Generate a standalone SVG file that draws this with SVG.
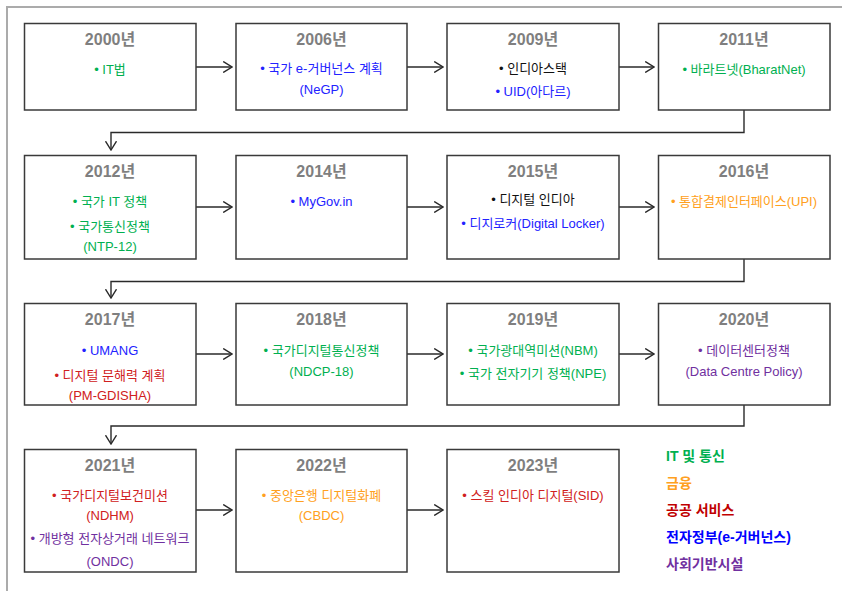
<svg xmlns="http://www.w3.org/2000/svg" width="842" height="591" viewBox="0 0 842 591">
<style>
.frame{fill:none;stroke:#ABABAB;stroke-width:2}
.box{fill:#fff;stroke:#3A3A3A;stroke-width:1.5}
.conn{fill:none;stroke:#2A2A2A;stroke-width:1.4}
text{font-family:"Liberation Sans","Noto Sans CJK KR",sans-serif;font-size:13px;text-anchor:middle}
.yr{font-size:16px;font-weight:bold;fill:#7F7F7F}
.g{fill:#00B050}.b{fill:#2222FF}.r{fill:#D02020}.o{fill:#FFA020}.p{fill:#7030A0}.k{fill:#111}
.lg{font-size:14px;font-weight:bold;text-anchor:start}
</style>
<defs>
<marker id="arr" viewBox="0 0 10 12" refX="9.3" refY="6" markerWidth="10" markerHeight="12" markerUnits="userSpaceOnUse" orient="auto">
<path d="M0.5,0.5 L9.3,6 L0.5,11.5" fill="none" stroke="#2A2A2A" stroke-width="1.4"/>
</marker>
</defs>
<rect width="842" height="591" fill="#fff"/>
<path class="frame" d="M7,591 V7 H842"/>

<g id="connectors">
<path class="conn" d="M196,67 H232" marker-end="url(#arr)"/>
<path class="conn" d="M407,67 H443" marker-end="url(#arr)"/>
<path class="conn" d="M619,67 H654" marker-end="url(#arr)"/>
<path class="conn" d="M744,110 V132.5 H111 V150" marker-end="url(#arr)"/>
<path class="conn" d="M196,207 H232" marker-end="url(#arr)"/>
<path class="conn" d="M407,207 H443" marker-end="url(#arr)"/>
<path class="conn" d="M619,207 H654" marker-end="url(#arr)"/>
<path class="conn" d="M744,259 V281.5 H111 V298" marker-end="url(#arr)"/>
<path class="conn" d="M196,354 H232" marker-end="url(#arr)"/>
<path class="conn" d="M407,354 H443" marker-end="url(#arr)"/>
<path class="conn" d="M619,354 H654" marker-end="url(#arr)"/>
<path class="conn" d="M744,405 V426 H111 V444" marker-end="url(#arr)"/>
<path class="conn" d="M196,510 H232" marker-end="url(#arr)"/>
<path class="conn" d="M407,510 H443" marker-end="url(#arr)"/>
</g>

<g id="n2000"><rect class="box" x="24.5" y="23.5" width="171.5" height="86.5"/>
<text class="yr" x="110" y="45">2000년</text>
<text class="g" x="110" y="74">• IT법</text></g>

<g id="n2006"><rect class="box" x="236" y="23.5" width="171" height="86.5"/>
<text class="yr" x="321.5" y="45">2006년</text>
<text class="b" x="321.5" y="73">• 국가 e-거버넌스 계획</text>
<text class="b" x="321.5" y="94">(NeGP)</text></g>

<g id="n2009"><rect class="box" x="447" y="23.5" width="172" height="86.5"/>
<text class="yr" x="533" y="45">2009년</text>
<text class="k" x="533" y="73">• 인디아스택</text>
<text class="b" x="533" y="96">• UID(아다르)</text></g>

<g id="n2011"><rect class="box" x="658.5" y="23.5" width="171.5" height="86.5"/>
<text class="yr" x="744" y="45">2011년</text>
<text class="g" x="744" y="74">• 바라트넷(BharatNet)</text></g>

<g id="n2012"><rect class="box" x="24.5" y="155.5" width="171.5" height="103.5"/>
<text class="yr" x="110" y="177">2012년</text>
<text class="g" x="110" y="206">• 국가 IT 정책</text>
<text class="g" x="110" y="231">• 국가통신정책</text>
<text class="g" x="110" y="251">(NTP-12)</text></g>

<g id="n2014"><rect class="box" x="236" y="155.5" width="171" height="103.5"/>
<text class="yr" x="321.5" y="177">2014년</text>
<text class="b" x="321.5" y="206">• MyGov.in</text></g>

<g id="n2015"><rect class="box" x="447" y="155.5" width="172" height="103.5"/>
<text class="yr" x="533" y="177">2015년</text>
<text class="k" x="533" y="204">• 디지털 인디아</text>
<text class="b" x="533" y="228">• 디지로커(Digital  Locker)</text></g>

<g id="n2016"><rect class="box" x="658.5" y="155.5" width="171.5" height="103.5"/>
<text class="yr" x="744" y="177">2016년</text>
<text class="o" x="744" y="206">• 통합결제인터페이스(UPI)</text></g>

<g id="n2017"><rect class="box" x="24.5" y="303.5" width="171.5" height="101.5"/>
<text class="yr" x="110" y="325">2017년</text>
<text class="b" x="110" y="355">• UMANG</text>
<text class="r" x="110" y="380">• 디지털 문해력 계획</text>
<text class="r" x="110" y="400">(PM-GDISHA)</text></g>

<g id="n2018"><rect class="box" x="236" y="303.5" width="171" height="101.5"/>
<text class="yr" x="321.5" y="325">2018년</text>
<text class="g" x="321.5" y="355">• 국가디지털통신정책</text>
<text class="g" x="321.5" y="376">(NDCP-18)</text></g>

<g id="n2019"><rect class="box" x="447" y="303.5" width="172" height="101.5"/>
<text class="yr" x="533" y="325">2019년</text>
<text class="g" x="533" y="355">• 국가광대역미션(NBM)</text>
<text class="g" x="533" y="378">• 국가 전자기기 정책(NPE)</text></g>

<g id="n2020"><rect class="box" x="658.5" y="303.5" width="171.5" height="101.5"/>
<text class="yr" x="744" y="325">2020년</text>
<text class="p" x="744" y="355">• 데이터센터정책</text>
<text class="p" x="744" y="376">(Data Centre Policy)</text></g>

<g id="n2021"><rect class="box" x="24.5" y="449.5" width="171.5" height="122.5"/>
<text class="yr" x="110" y="471">2021년</text>
<text class="r" x="110" y="500">• 국가디지털보건미션</text>
<text class="r" x="110" y="520">(NDHM)</text>
<text class="p" x="110" y="543">• 개방형 전자상거래 네트워크</text>
<text class="p" x="110" y="566">(ONDC)</text></g>

<g id="n2022"><rect class="box" x="236" y="449.5" width="171" height="122.5"/>
<text class="yr" x="321.5" y="471">2022년</text>
<text class="o" x="321.5" y="500">• 중앙은행 디지털화폐</text>
<text class="o" x="321.5" y="520">(CBDC)</text></g>

<g id="n2023"><rect class="box" x="447" y="449.5" width="172" height="122.5"/>
<text class="yr" x="533" y="471">2023년</text>
<text class="r" x="533" y="500">• 스킬 인디아 디지털(SID)</text></g>

<g id="legend">
<text class="lg" x="666" y="461" fill="#00B050">IT 및 통신</text>
<text class="lg" x="666" y="488" fill="#FFA020">금융</text>
<text class="lg" x="666" y="515" fill="#C00000">공공 서비스</text>
<text class="lg" x="666" y="542" fill="#0000FF">전자정부(e-거버넌스)</text>
<text class="lg" x="666" y="569" fill="#7030A0">사회기반시설</text>
</g>
</svg>
